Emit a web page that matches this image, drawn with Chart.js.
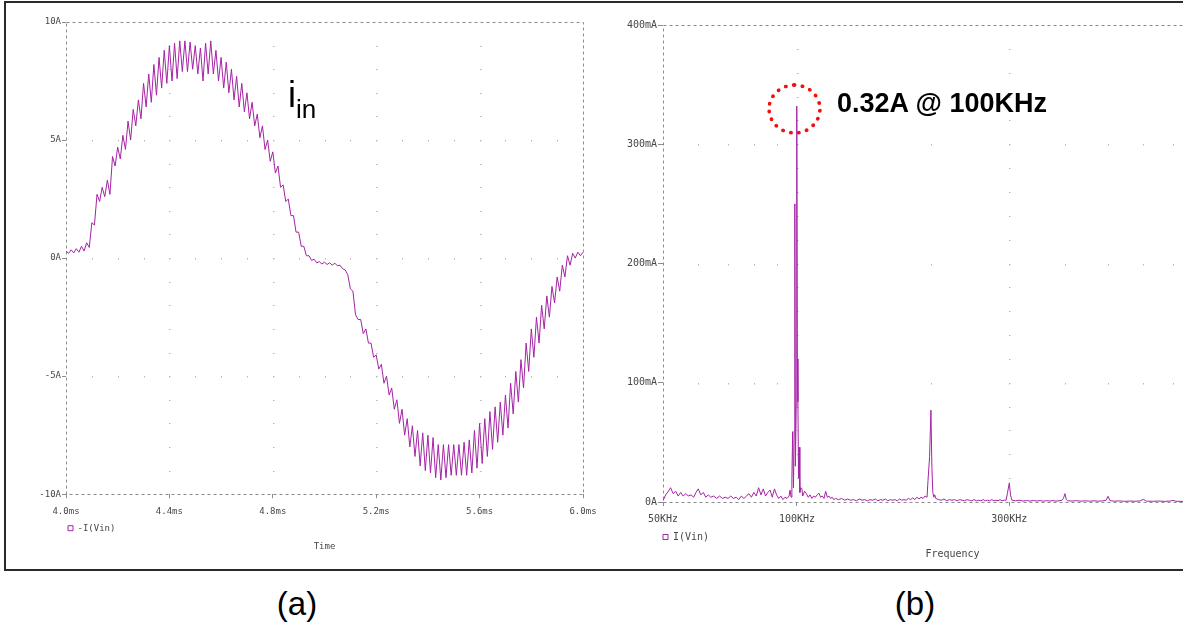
<!DOCTYPE html>
<html>
<head>
<meta charset="utf-8">
<script src="https://cdn.jsdelivr.net/npm/chart.js@4.4.1/dist/chart.umd.min.js"></script>
<style>
html, body { margin: 0; padding: 0; overflow: hidden; background: #fff; }
body { width: 1183px; height: 636px; position: relative; }
canvas { position: absolute; top: 0; }
#timeChart { left: 0; }
#fftChart { left: 600px; }
.frame { position: absolute; left: 4px; top: 1px; width: 1300px; height: 570px; box-sizing: border-box;
  border: 2px solid #2a2a2a; pointer-events: none; }
.note { position: absolute; font-family: "Liberation Sans", Arial, sans-serif; color: #000; line-height: 1; white-space: nowrap; }
.iin { left: 288px; top: 77px; font-size: 36px; }
.iin span { font-size: 26px; vertical-align: -11px; }
.peak { left: 837px; top: 90px; font-size: 27px; font-weight: bold; }
.ring { position: absolute; left: 767px; top: 83px; width: 55px; height: 52px; box-sizing: border-box;
  border: 4px dotted #f01010; border-radius: 50%; }
.cap { position: absolute; top: 587px; font-size: 33px; font-family: "Liberation Sans", Arial, sans-serif; transform: translateX(-50%); line-height: 1; }
</style>
</head>
<body>
<canvas id="timeChart" width="600" height="566"></canvas>
<canvas id="fftChart" width="660" height="566"></canvas>
<div class="frame"></div>
<div class="note iin">i<span>in</span></div>
<div class="ring"></div>
<div class="note peak">0.32A @ 100KHz</div>
<div class="cap" style="left:297px">(a)</div>
<div class="cap" style="left:915px">(b)</div>
<script>
// (a) input current -I(Vin), 4ms..6ms. The switching ripple is kept as
// its top and bottom at every sample; the bottom sits half a step later.
const timeMs = [
  4.00,4.02,4.04,4.06,4.08,4.10,4.12,4.14,4.16,4.18,
  4.20,4.22,4.24,4.26,4.28,4.30,4.32,4.34,4.36,4.38,
  4.40,4.42,4.44,4.46,4.48,4.50,4.52,4.54,4.56,4.58,
  4.60,4.62,4.64,4.66,4.68,4.70,4.72,4.74,4.76,4.78,
  4.80,4.82,4.84,4.86,4.88,4.90,4.92,4.94,4.96,4.98,
  5.00,5.02,5.04,5.06,5.08,5.10,5.12,5.14,5.16,5.18,
  5.20,5.22,5.24,5.26,5.28,5.30,5.32,5.34,5.36,5.38,
  5.40,5.42,5.44,5.46,5.48,5.50,5.52,5.54,5.56,5.58,
  5.60,5.62,5.64,5.66,5.68,5.70,5.72,5.74,5.76,5.78,
  5.80,5.82,5.84,5.86,5.88,5.90,5.92,5.94,5.96,5.98,
  6.00]
const iPeakA = [
  0.3,0.35,0.4,0.5,0.65,1.5,2.7,3.0,3.3,4.3,
  4.7,5.2,5.8,6.3,6.7,7.4,7.8,8.2,8.5,8.8,
  9.0,9.1,9.2,9.2,9.15,9.0,8.9,9.1,9.2,8.8,
  8.5,8.3,8.0,7.7,7.4,7.0,6.6,6.1,5.6,5.0,
  4.5,3.9,3.1,2.5,1.8,1.1,0.5,0.1,-0.05,-0.15,
  -0.17,-0.2,-0.22,-0.3,-0.5,-1.3,-2.4,-2.6,-3.0,-3.6,
  -4.1,-4.5,-5.0,-5.5,-6.0,-6.4,-6.8,-7.1,-7.3,-7.4,
  -7.5,-7.6,-7.9,-7.9,-7.9,-7.9,-7.9,-7.8,-7.7,-7.3,
  -7.0,-6.8,-6.5,-6.3,-6.1,-5.8,-5.3,-4.8,-4.3,-3.6,
  -3.0,-2.5,-2.0,-1.6,-1.2,-0.8,-0.3,0.1,0.2,0.25,
  0.25]
const iValleyA = [
  0.2,0.22,0.25,0.3,0.45,1.4,2.4,2.6,2.7,3.9,
  4.2,4.6,5.0,5.6,5.9,6.4,6.6,6.9,7.2,7.4,
  7.5,7.6,7.9,7.9,8.0,7.8,7.5,7.8,7.8,7.5,
  7.2,7.0,6.7,6.4,6.2,5.9,5.6,5.1,4.6,4.1,
  3.6,3.0,2.4,1.8,1.1,0.5,0.1,-0.1,-0.2,-0.25,
  -0.27,-0.3,-0.32,-0.45,-0.7,-1.4,-2.6,-3.2,-3.6,-4.2,
  -4.7,-5.3,-5.8,-6.4,-7.0,-7.5,-8.0,-8.4,-8.8,-9.0,
  -9.1,-9.3,-9.4,-9.3,-9.2,-9.2,-9.2,-9.2,-9.1,-8.9,
  -8.7,-8.4,-8.1,-7.8,-7.5,-7.2,-6.6,-6.1,-5.5,-4.8,
  -4.2,-3.6,-3.0,-2.5,-1.9,-1.4,-0.8,-0.3,0.0,0.1,
  0.15]
const timeTicksMs = [4.0, 4.4, 4.8, 5.2, 5.6, 6.0]
const currentTicksA = [-10, -5, 0, 5, 10]

// (b) spectrum of I(Vin)
const freqKHz = [
  50,50.7,51.4,52,52.7,53.4,54.1,54.8,55.5,56.3,57,57.8,58.6,59.3,60,60.8,61.6,62.4,63.2,64,
  65,66,67,68,69,70,71,72,73,74,75,76,77,78,79,80,81,82,83,84,
  85,86,87,88,89,90,91,92,93,94,95,96,96.5,97,97.4,97.8,98.2,98.6,98.9,99.2,
  99.6,99.9,100.2,100.5,100.8,101.1,101.5,102,102.6,103,104,105,106,107,108,109,110,111,112,113,
  114,115,116,117,118,119,120,121,122,124,126,128,130,132,134,136,138,140,142,144,
  146,148,150,152,154,156,158,160,162,164,166,168,170,172,174,176,178,180,182,184,
  186,188,190,192,194,196,197,198.6,200,201,202,203,204,205,208,211,214,217,220,223,
  226,229,232,235,238,241,244,247,250,253,256,259,262,265,268,271,274,277,280,283,
  286,289,292,295,297,300,302,304,310,316,322,328,334,340,346,352,358,364,370,376,
  382,388,394,397,400,403,406,415,425,435,445,455,465,475,485,495,500,505,515,530,
  545,560,575,590,600,610,630,650,670,690,700,710,740,770,800,830,870,900,940,970,
  1000]
const ampMA = [
  1,6,9,12,7,9,5,8,5,7,5,6,4,8,11,6,8,4,6,4,
  5,3,5,3,4,3,5,3,4,2,5,3,5,7,4,8,5,12,6,11,
  5,8,10,4,11,6,3,5,2,4,3,5,10,4,20,59,12,60,250,30,
  80,332,120,84,20,46,8,12,11,5,9,7,4,6,3,5,4,6,7.5,4,
  5,3,9,4,5,3,4,2,3,2,3,1.5,2.5,1.5,2,1,2.5,1.5,2,1,
  2,1.5,2.5,1,2,1.5,2.5,1,2,1.5,2,1,2.5,1.5,2,1.5,3,2,3.5,2,
  4,2.5,4,3,5,4,18,38,77,29,8,4,6,3,2,1.5,2.5,1,2,1.5,
  2,1,2,1.5,1,2,1.5,1,2,1,1.5,1,2,1,1.5,1,2,1,1.5,1,
  2,1,1.5,1.5,7,16,5.6,1.5,1,1.5,0.8,1.2,0.8,1.3,0.8,1.2,0.7,1.1,0.8,1.2,
  0.7,1.0,1.5,3,7,2,1,0.8,1.1,0.7,1.0,0.7,1.0,0.7,0.9,1.5,4.8,1.2,0.7,0.9,
  0.6,0.8,0.6,0.9,2.2,0.7,0.6,0.8,0.5,0.8,1.4,0.6,0.5,0.6,1.1,0.5,0.5,0.8,0.4,0.5,
  0.5]
const freqTicksKHz = [50, 100, 300, 1000]
const ampTicksMA = [0, 100, 200, 300, 400]

const traceColor = 'rgb(165, 35, 165)'
const labelColor = '#474747'
const mono = "'DejaVu Sans Mono', 'Liberation Mono', monospace"

// PSpice style: dashed plot frame, dots along the major grid lines
const dottedGrid = {
    id: 'dottedGrid',
    beforeDatasetsDraw(chart, args, opts) {
        const {ctx, chartArea: a} = chart
        const x = chart.scales.x, y = chart.scales.y
        ctx.save()
        ctx.fillStyle = '#b5b5b5'
        for (const yv of opts.yLines) {
            const py = Math.round(y.getPixelForValue(yv))
            for (const xv of opts.xDots) ctx.fillRect(Math.round(x.getPixelForValue(xv)), py, 1, 1.5)
        }
        for (const xv of opts.xLines) {
            const px = Math.round(x.getPixelForValue(xv))
            for (const yv of opts.yDots) ctx.fillRect(px, Math.round(y.getPixelForValue(yv)), 1.5, 1)
        }
        ctx.strokeStyle = '#8c8c8c'
        ctx.lineWidth = 1
        ctx.setLineDash([3, 3])
        ctx.strokeRect(Math.round(a.left) + 0.5, Math.round(a.top) + 0.5,
            Math.round(a.right - a.left), Math.round(a.bottom - a.top))
        ctx.restore()
    }
}

// legend sits under the tick labels, the title under the legend, both starting from the plot area
const placeBoxes = {
    id: 'placeBoxes',
    afterLayout(chart, args, opts) {
        const a = chart.chartArea
        const lg = chart.legend
        if (lg) {
            const p = opts.legendPadding
            lg.left = a.left + opts.legendX - p
            lg.right = lg.left + lg.width
            lg.top = a.bottom + opts.legendY - p - opts.fontSize / 2
            lg.bottom = lg.top + lg.height
        }
        const tb = chart.titleBlock
        if (tb) {
            tb.left = a.left
            tb.right = a.right
            tb.top = a.bottom + opts.titleY - tb.height / 2
            tb.bottom = tb.top + tb.height
        }
    }
}

function axisFont(size) {
    return {family: mono, size: size, lineHeight: 1.2}
}

// x axis keeps a fixed height and lets its end labels hang over the padding
function fixXAxis(s) {
    s.height = 24
    s.paddingLeft = 0
    s.paddingRight = 0
}

// ---------- (a) ----------
const timePoints = []
timeMs.forEach((t, i) => {
    timePoints.push({x: t, y: iPeakA[i]})
    if (i < timeMs.length - 1) timePoints.push({x: (t + timeMs[i + 1]) / 2, y: iValleyA[i]})
})

new Chart(document.getElementById('timeChart'), {
    type: 'line',
    data: {
        datasets: [{
            label: '-I(Vin)',
            data: timePoints,
            borderColor: traceColor,
            backgroundColor: '#fff',
            borderWidth: 1,
            pointRadius: 0,
            tension: 0
        }]
    },
    options: {
        responsive: false,
        animation: false,
        events: [],
        layout: {padding: {left: 0, right: 17, top: 22, bottom: 13}},
        scales: {
            x: {
                type: 'linear', min: 4.0, max: 6.0,
                afterBuildTicks: s => { s.ticks = timeTicksMs.map(v => ({value: v})) },
                afterFit: fixXAxis,
                ticks: {callback: v => v.toFixed(1) + 'ms', font: axisFont(9), color: labelColor,
                    padding: 8, maxRotation: 0, autoSkip: false},
                grid: {drawOnChartArea: false, tickLength: 4, tickColor: '#8c8c8c'},
                border: {display: false}
            },
            y: {
                type: 'linear', min: -10, max: 10,
                afterBuildTicks: s => { s.ticks = currentTicksA.map(v => ({value: v})) },
                afterFit: s => { s.width = 66 },
                ticks: {callback: v => v + 'A', font: axisFont(9), color: labelColor, padding: 1},
                grid: {drawOnChartArea: false, tickLength: 4, tickColor: '#8c8c8c'},
                border: {display: false}
            }
        },
        plugins: {
            legend: {
                display: true, position: 'bottom', align: 'start',
                labels: {boxWidth: 5, boxHeight: 5, padding: 5, font: axisFont(9), color: labelColor}
            },
            title: {
                display: true, text: 'Time', position: 'bottom', padding: 0,
                font: {family: mono, size: 9, weight: 'normal', lineHeight: 1.2}, color: labelColor
            },
            tooltip: {enabled: false},
            dottedGrid: {
                yLines: [5, 0, -5],
                xDots: [4.1,4.2,4.3,4.4,4.5,4.6,4.7,4.8,4.9,5.0,5.1,5.2,5.3,5.4,5.5,5.6,5.7,5.8,5.9],
                xLines: [4.4, 4.8, 5.2, 5.6],
                yDots: [-9,-8,-7,-6,-5,-4,-3,-2,-1,0,1,2,3,4,5,6,7,8,9]
            },
            placeBoxes: {legendX: 2, legendY: 34, titleY: 52, legendPadding: 5, fontSize: 9}
        }
    },
    plugins: [dottedGrid, placeBoxes]
})

// ---------- (b) ----------
const specPoints = freqKHz.map((f, i) => ({x: f, y: ampMA[i]}))

new Chart(document.getElementById('fftChart'), {
    type: 'line',
    data: {
        datasets: [{
            label: 'I(Vin)',
            data: specPoints,
            borderColor: traceColor,
            backgroundColor: '#fff',
            borderWidth: 1,
            pointRadius: 0,
            tension: 0
        }]
    },
    options: {
        responsive: false,
        animation: false,
        events: [],
        layout: {padding: {left: 0, right: 18, top: 25, bottom: 2}},
        scales: {
            x: {
                type: 'logarithmic', min: 50, max: 1000,
                afterBuildTicks: s => { s.ticks = freqTicksKHz.map(v => ({value: v})) },
                afterFit: fixXAxis,
                ticks: {callback: v => v >= 1000 ? (v / 1000).toFixed(1) + 'MHz' : v + 'KHz',
                    font: axisFont(10), color: labelColor, padding: 7, maxRotation: 0, autoSkip: false},
                grid: {drawOnChartArea: false, tickLength: 4, tickColor: '#8c8c8c'},
                border: {display: false}
            },
            y: {
                type: 'linear', min: 0, max: 400,
                afterBuildTicks: s => { s.ticks = ampTicksMA.map(v => ({value: v})) },
                afterFit: s => { s.width = 63 },
                ticks: {callback: v => v === 0 ? '0A' : v + 'mA', font: axisFont(10), color: labelColor, padding: 1},
                grid: {drawOnChartArea: false, tickLength: 5, tickColor: '#8c8c8c'},
                border: {display: false}
            }
        },
        plugins: {
            legend: {
                display: true, position: 'bottom', align: 'start',
                labels: {boxWidth: 5, boxHeight: 5, padding: 6, font: axisFont(10), color: labelColor}
            },
            title: {
                display: true, text: 'Frequency', position: 'bottom', padding: 0,
                font: {family: mono, size: 10, weight: 'normal', lineHeight: 1.2}, color: labelColor
            },
            tooltip: {enabled: false},
            dottedGrid: {
                yLines: [300, 200, 100],
                xDots: [60, 70, 80, 90, 100, 200, 300, 400, 500, 600, 700, 800, 900],
                xLines: [100, 300],
                yDots: [20,40,60,80,100,120,140,160,180,200,220,240,260,280,300,320,340,360,380]
            },
            placeBoxes: {legendX: 0, legendY: 35, titleY: 52, legendPadding: 6, fontSize: 10}
        }
    },
    plugins: [dottedGrid, placeBoxes]
})
</script>
</body>
</html>
